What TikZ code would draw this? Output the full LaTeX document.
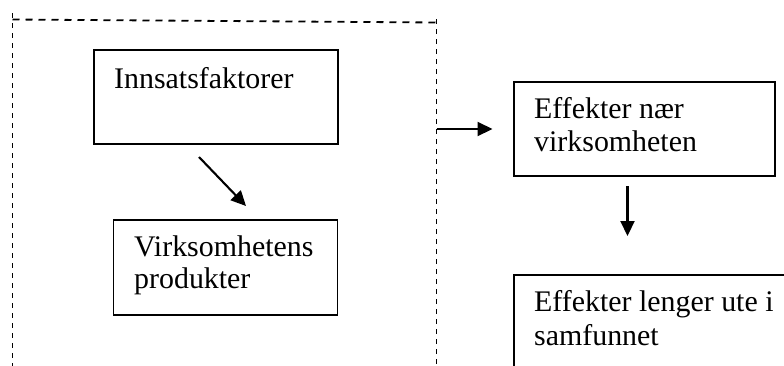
\documentclass[tikz,border=0pt]{standalone}
\usepackage{fontspec}
\setmainfont{Liberation Serif}
\usetikzlibrary{arrows.meta}
\begin{document}
\begin{tikzpicture}[x=1pt,y=-1pt,
  box/.style={draw,line width=1.8pt,inner sep=0pt,anchor=north west},
  txt/.style={anchor=base west,inner sep=0pt,font=\fontsize{29.9}{33}\selectfont},
  flow/.style={line width=2.1pt,-{Triangle[length=15pt,width=14pt]}},
  frameh/.style={line width=1.8pt,dash pattern=on 7pt off 6pt},
  framev/.style={line width=1.8pt,dash pattern=on 5pt off 5pt}]
\useasboundingbox (0,0) rectangle (784,365);
\clip (0,0) rectangle (784,365);

% dashed frame around the organisation (open at the bottom)
\coordinate (ftl) at (12.5,13);
\coordinate (ftlh) at (12.5,19.5);
\coordinate (ftr) at (436.5,22.5);
\coordinate (fbl) at (12.5,370);
\coordinate (fbr) at (436.5,370);
\draw[frameh] (ftlh) -- (ftr);
\draw[framev] (ftl) -- (fbl);
\draw[framev] (436.5,19) -- (fbr);

% boxes
\node[box,minimum width=244pt,minimum height=94pt] (inn) at (93,49) {};
\node[box,minimum width=224pt,minimum height=95pt] (prod) at (112.5,219) {};
\node[box,minimum width=261pt,minimum height=94pt] (naer) at (513,81) {};
\node[box,minimum width=300pt,minimum height=130pt] (ute) at (513,274) {};

% texts
\node[txt] (t1) at (114,88) {Innsatsfaktorer};
\node[txt] (t2a) at (134,256) {Virksomhetens};
\node[txt] (t2b) at (134,288.5) {produkter};
\node[txt] (t3a) at (534,118) {Effekter nær};
\node[txt] (t3b) at (534,151.5) {virksomheten};
\node[txt] (t4a) at (534,311.5) {Effekter lenger ute i};
\node[txt] (t4b) at (534,345) {samfunnet};

% arrows
\coordinate (a1s) at (199,157);
\coordinate (a1e) at (246,206);
\coordinate (a2s) at (436.5,129);
\coordinate (a2e) at (492.5,129);
\coordinate (a3s) at (627.5,186);
\coordinate (a3e) at (627.5,236);
\draw[flow] (a1s) -- (a1e);
\draw[flow] (a2s) -- (a2e);
\draw[flow] (a3s) -- (a3e);
\end{tikzpicture}
\end{document}
